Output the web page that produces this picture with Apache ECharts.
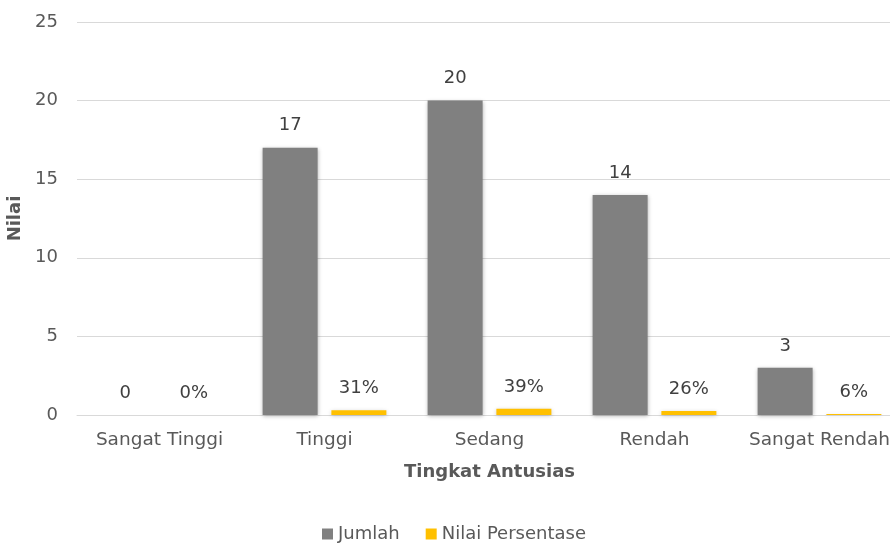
<!DOCTYPE html>
<html><head><meta charset="utf-8">
<script src="https://cdn.jsdelivr.net/npm/echarts@6/dist/echarts.min.js"></script>
<style>html,body{margin:0;padding:0;background:#fff}#c{width:890px;height:543px}</style>
</head><body><div id="c"></div>
<script>
const categories = ['Sangat Tinggi', 'Tinggi', 'Sedang', 'Rendah', 'Sangat Rendah'];
const jumlah = [0, 17, 20, 14, 3];
const persentase = [0, 0.31, 0.39, 0.26, 0.06];
const yTicks = [0, 5, 10, 15, 20, 25];

const font = 'DejaVu Sans';
const chart = echarts.init(document.getElementById('c'), null, {renderer: 'canvas'});
chart.setOption({
  animation: false,
  textStyle: {fontFamily: font},
  grid: {left: 77, top: 22, width: 825, height: 393, containLabel: false, outerBoundsMode: 'none'},
  legend: {
    top: 520, left: 317, itemWidth: 11, itemHeight: 11, itemGap: 26, icon: 'rect',
    textStyle: {fontFamily: font, fontSize: 18, color: '#595959'},
    data: ['Jumlah', 'Nilai Persentase']
  },
  xAxis: {
    type: 'category', data: categories,
    name: 'Tingkat Antusias', nameLocation: 'middle', nameGap: 48,
    nameTextStyle: {fontFamily: font, fontSize: 18, fontWeight: 'bold', color: '#595959'},
    axisLine: {lineStyle: {color: '#d9d9d9', width: 1}},
    axisTick: {show: false},
    axisLabel: {fontFamily: font, fontSize: 18.5, color: '#595959', margin: 16, interval: 0}
  },
  yAxis: {
    type: 'value', min: yTicks[0], max: yTicks[yTicks.length - 1], interval: 5,
    name: 'Nilai', nameLocation: 'middle', nameGap: 49,
    nameTextStyle: {fontFamily: font, fontSize: 18, fontWeight: 'bold', color: '#595959'},
    axisLine: {show: false}, axisTick: {show: false},
    axisLabel: {fontFamily: font, fontSize: 18, color: '#595959', margin: 19},
    splitLine: {lineStyle: {color: '#d9d9d9', width: 1}}
  },
  series: [
    {
      name: 'Jumlah', type: 'bar', data: jumlah, barWidth: 55, barGap: '25%',
      itemStyle: {color: '#808080', shadowBlur: 4, shadowColor: 'rgba(0,0,0,0.3)', shadowOffsetY: 1},
      label: {show: true, position: 'top', distance: 13, fontFamily: font, fontSize: 18, color: '#404040'}
    },
    {
      name: 'Nilai Persentase', type: 'bar', data: persentase, barWidth: 55,
      itemStyle: {color: '#FFC000', shadowBlur: 4, shadowColor: 'rgba(0,0,0,0.2)', shadowOffsetY: 1},
      label: {show: true, position: 'top', distance: 13, fontFamily: font, fontSize: 18, color: '#404040',
        formatter: p => Math.round(p.value * 100) + '%'}
    }
  ]
});
</script></body></html>
